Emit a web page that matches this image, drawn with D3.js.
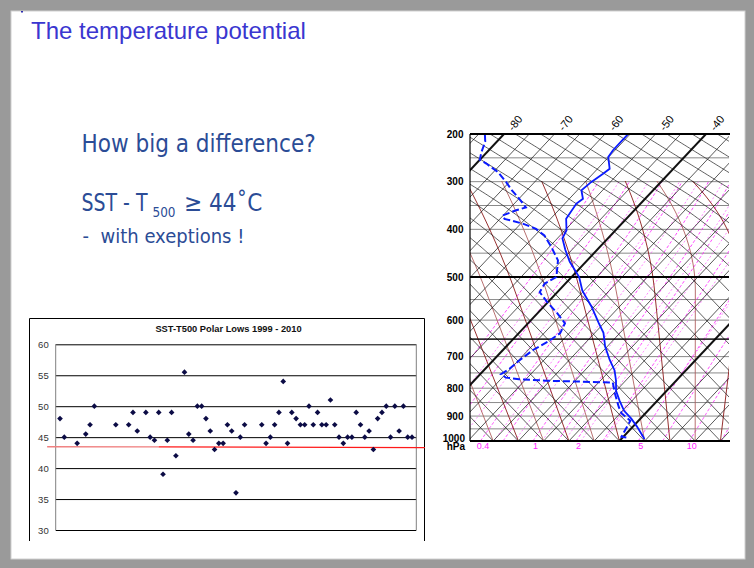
<!DOCTYPE html>
<html><head><meta charset="utf-8">
<script src="https://cdn.jsdelivr.net/npm/d3@7"></script>
<style>body{margin:0;background:#9a9a9a;} svg{display:block}</style>
</head><body><svg id="c" width="754" height="568"></svg>
<script>
// ---------- DATA ----------
// Scatter: SST - T500 for polar lows (index order, null = gap)
const scatterValues = [48,45,null,null,44,null,45.5,47,50,null,null,null,null,47,null,null,47,49,46,null,49,45,44.5,49,39,44.5,49,42,null,55.5,45.5,44.5,50,50,48,46,43,44,44,47,46,36,45,47,null,null,null,47,44,45,47,49,54,44,49,48,47,47,50,47,49,47,47,51,47,45,44,45,45,49,47,45,46,43,48,49,50,45,50,46,50,45,45];
const scatterTicks = [30,35,40,45,50,55,60];
const scatterTitle = "SST-T500 Polar Lows 1999 - 2010";
const thresholdLine = [[-3,43.45],[23,43.42],[85,43.3]];

// Sounding (pressure hPa, temperature degC)
const tempP  = [200,213,234,248,273,284,301,318,336,346,378,402,419,443,468,500,530,567,607,633,671,710,742,775,809,843,880,910,941,982,992];
const tempT  = [-55.4,-55.4,-55.4,-55.1,-52.6,-53.0,-53.8,-54.2,-52.3,-52.7,-51.9,-49.7,-49.0,-46.3,-43.2,-38.5,-35.3,-30.5,-26.1,-23.3,-20.4,-17.0,-14.1,-11.9,-10.0,-7.5,-4.7,-1.8,0.8,3.9,4.6];
const dewP   = [202,216,238,254,262,280,301,318,336,354,360,371,378,388,399,413,437,465,500,514,533,555,582,608,634,656,680,710,737,754,765,770,775,778,781,820,867,891,918,982,985];
const dewT   = [-83.6,-82.3,-81.1,-80.0,-78.0,-74.1,-70.6,-68.0,-64.9,-62.0,-63.4,-65.1,-64.1,-59.6,-56.0,-53.1,-49.6,-45.8,-43.0,-44.1,-43.5,-40.3,-36.2,-32.7,-31.8,-32.6,-34.0,-34.8,-35.2,-35.9,-34.3,-31.4,-25.8,-19.0,-12.2,-9.6,-6.4,-4.6,-1.6,-0.4,0.7];

// Diagram grid definitions
const pressureLabels = [200,300,400,500,600,700,800,900];
const isobars = d3.range(200,1001,50);
const isotherms = d3.range(-120,41,5);
const thickIsotherms = [-80,-40,0];
const isothermLabels = [-80,-70,-60,-50,-40];
const dryAdiabatBase = d3.range(-30,96,5);
const moistAdiabatBase = [-25,-20,-15,-10,-5,0,5,10,15,20];
const mixingRatios = [0.1,0.2,0.4,0.6,1,1.5,2,3,5,7,10,15,20];
const mixingLabels = [0.4,1,2,5,10];

// ---------- DRAW ----------
const svg = d3.select('#c');
svg.append('rect').attr('width',754).attr('height',568).attr('fill','#9a9a9a');
svg.append('rect').attr('x',11).attr('y',11).attr('width',734).attr('height',548)
   .attr('fill','#fff').attr('stroke','#d0d0d0');
svg.append('rect').attr('x',21).attr('y',11).attr('width',2).attr('height',1.5).attr('fill','#2b2bb0');

// slide texts
svg.append('text').attr('x',31).attr('y',39)
  .attr('font-family','"Liberation Sans", Arial, sans-serif').attr('font-size',24)
  .attr('fill','#3a36d0').text('The temperature potential');
const tf = '"DejaVu Sans Condensed","DejaVu Sans",sans-serif';
const tcol = '#2b4c96';
svg.append('text').attr('x',81.5).attr('y',151.5).attr('font-family',tf).attr('font-size',24)
  .attr('fill',tcol).text('How big a difference?');
const sst = svg.append('text').attr('y',210.5).attr('font-family',tf).attr('font-size',24).attr('fill',tcol);
sst.append('tspan').attr('x',81.5).attr('textLength',66).attr('lengthAdjust','spacingAndGlyphs').text('SST - T');
sst.append('tspan').attr('x',152.5).attr('y',216.5).attr('font-size',14.5).attr('textLength',23).attr('lengthAdjust','spacingAndGlyphs').text('500');
sst.append('tspan').attr('x',184).attr('y',210.5).text('\u2265 44\u02DAC');
const ex = svg.append('text').attr('y',243).attr('font-family',tf).attr('font-size',20).attr('fill',tcol);
ex.append('tspan').attr('x',82.5).text('-');
ex.append('tspan').attr('x',100.5).text('with exeptions !');

// ---------- Scatter chart ----------
const sc = svg.append('g');
const xS = d3.scaleLinear().domain([-1,83]).range([55.7,416.3]);
const yS = d3.scaleLinear().domain([30,60]).range([530,344.3]);
sc.append('path').attr('d','M29.5,541 V318.5 H424.5 V541').attr('fill','none').attr('stroke','#000').attr('stroke-width',1);
sc.append('text').attr('x',228.5).attr('y',332.3).attr('text-anchor','middle')
  .attr('font-family','"Liberation Sans", Arial, sans-serif').attr('font-size',9.3).attr('font-weight','bold')
  .attr('fill','#111').text(scatterTitle);
const yAx = d3.axisLeft(yS).tickValues(scatterTicks).tickSizeInner(-(416.3-55.7)).tickSizeOuter(0).tickPadding(7);
const ga = sc.append('g').attr('transform','translate(55.7,0)').call(yAx);
ga.select('.domain').remove();
ga.selectAll('.tick line').attr('stroke','#000').attr('stroke-width',1);
ga.selectAll('.tick text').attr('font-family','"Liberation Sans", Arial, sans-serif').attr('font-size',9.5).attr('fill','#333');
sc.append('line').attr('x1',55.7).attr('x2',55.7).attr('y1',yS(60)).attr('y2',yS(30)).attr('stroke','#808080');
sc.append('line').attr('x1',416.3).attr('x2',416.3).attr('y1',yS(60)).attr('y2',yS(30)).attr('stroke','#808080');
sc.append('path').attr('d',d3.line().x(d=>xS(d[0])).y(d=>yS(d[1]))(thresholdLine.slice(0,2)))
  .attr('stroke','#f08080').attr('stroke-width',1.3).attr('fill','none');
sc.append('path').attr('d',d3.line().x(d=>xS(d[0])).y(d=>yS(d[1]))(thresholdLine.slice(1)))
  .attr('stroke','#ff1a1a').attr('stroke-width',1.3).attr('fill','none');
const sym = d3.symbol(d3.symbolSquare,16);
sc.selectAll('path.pt').data(scatterValues.map((v,i)=>({i,v})).filter(d=>d.v!=null)).join('path')
  .attr('class','pt').attr('d',sym)
  .attr('transform',d=>`translate(${xS(d.i)},${yS(d.v)}) rotate(45)`)
  .attr('fill','#0b0b45');

// ---------- Skew-T diagram ----------
const L = 470, R = 729, T0y = 134, B = 441;
const yLin = d3.scaleLinear().domain([200,500]).range([134,277]);
const yLog = d3.scaleLog().domain([500,1000]).range([277,441]);
const py = p => p <= 500 ? yLin(p) : yLog(p);
const tx = d3.scaleLinear().domain([-80,-40]).range([504,706]);
const skew = 0.94;
const X = (T,p) => tx(T) - skew*(py(p) - T0y);
const line = d3.line();

const st = svg.append('g');
st.append('clipPath').attr('id','clip').append('rect').attr('x',L).attr('y',T0y).attr('width',R-L).attr('height',B-T0y);
const g = st.append('g').attr('clip-path','url(#clip)');

g.selectAll('line.iso').data(isobars).join('line')
  .attr('x1',L).attr('x2',R).attr('y1',d=>py(d)).attr('y2',d=>py(d))
  .attr('stroke','#8a8a8a').attr('stroke-width',1);

function mixPath(w, ice){
  const pts=[];
  for(let p=1000;p>=300;p-=5){
    const e=w*p/(622+w), Ln=Math.log(e/6.112);
    const T = ice ? 272.62*Ln/(22.46-Ln) : 243.5*Ln/(17.67-Ln);
    if(ice && T>0) continue;
    pts.push([X(T,p),py(p)]);
  }
  return pts;
}
mixingRatios.forEach(w=>{
  g.append('path').attr('d',line(mixPath(w,false))).attr('fill','none')
    .attr('stroke','#ff33ff').attr('stroke-width',0.9).attr('stroke-dasharray','3,2');
  g.append('path').attr('d',line(mixPath(w,true))).attr('fill','none')
    .attr('stroke','#ff55ff').attr('stroke-width',0.7).attr('stroke-dasharray','2,2');
});

function moistPath(T){
  const x0 = X(T,1000);
  const c0 = 0.2622 - 0.01289*T - 0.000311*T*T;
  const c2 = Math.max(0.0008, 0.0015 + 0.00034*(T-10));
  const pts=[];
  for(let d=0; d<=260; d+=2){
    pts.push([x0 - c0*d - c2*Math.pow(Math.max(0,d-150),2), B-d]);
  }
  return pts;
}
moistAdiabatBase.forEach((T,i)=>{
  g.append('path').attr('d',line(moistPath(T))).attr('fill','none')
   .attr('stroke', i%2 ? '#8b1a1a' : '#b06060').attr('stroke-width',0.9);
});

const slope = y => y>=290 ? 1.05 : (y<=190 ? 0.62 : 0.62 + (y-190)/100*0.43);
function dryPath(T){
  let x = X(T,1000); const pts=[];
  for(let y=B; y>=T0y-1; y-=1){ pts.push([x,y]); x -= 1/slope(y-0.5); }
  return pts;
}
dryAdiabatBase.forEach(T=>{
  g.append('path').attr('d',line(dryPath(T))).attr('fill','none')
   .attr('stroke','#1a1a1a').attr('stroke-width',0.7);
});

g.selectAll('line.it').data(isotherms).join('line')
  .attr('x1',d=>X(d,200)).attr('y1',py(200)).attr('x2',d=>X(d,1000)).attr('y2',py(1000))
  .attr('stroke','#111').attr('stroke-width',d=>thickIsotherms.includes(d)?2:0.7);

[[500,2],[650,1.4]].forEach(([p,w])=>{
  g.append('line').attr('x1',L).attr('x2',R).attr('y1',py(p)).attr('y2',py(p)).attr('stroke','#000').attr('stroke-width',w);
});

const tempPts = tempP.map((p,i)=>[X(tempT[i],p),py(p)]);
const dewPts = dewP.map((p,i)=>[X(dewT[i],p),py(p)]);
g.append('path').attr('d',line(dewPts)).attr('fill','none').attr('stroke','#0a1aff')
  .attr('stroke-width',2).attr('stroke-dasharray','7,3');
g.append('path').attr('d',line(tempPts)).attr('fill','none').attr('stroke','#0a1aff')
  .attr('stroke-width',1.8);

st.append('line').attr('x1',L).attr('x2',L).attr('y1',T0y).attr('y2',B).attr('stroke','#000').attr('stroke-width',1.2);
st.append('line').attr('x1',L).attr('x2',R+1).attr('y1',T0y).attr('y2',T0y).attr('stroke','#000').attr('stroke-width',2);
st.append('line').attr('x1',L).attr('x2',R+1).attr('y1',B).attr('y2',B).attr('stroke','#000').attr('stroke-width',2);

const lf = '"Liberation Sans", Arial, sans-serif';
st.selectAll('text.pl').data(pressureLabels).join('text')
  .attr('x',463.5).attr('y',d=>py(d)).attr('dy','0.36em').attr('text-anchor','end')
  .attr('font-family',lf).attr('font-size',10).attr('font-weight','bold').text(d=>d);
st.append('text').attr('x',465).attr('y',py(1000)-2.5).attr('dy','0.36em').attr('text-anchor','end')
  .attr('font-family',lf).attr('font-size',10).attr('font-weight','bold').text('1000');
st.append('text').attr('x',465).attr('y',py(1000)+5).attr('dy','0.36em').attr('text-anchor','end')
  .attr('font-family',lf).attr('font-size',10).attr('font-weight','bold').text('hPa');

st.selectAll('text.tl').data(isothermLabels).join('text')
  .attr('transform',d=>`translate(${tx(d)+11},${T0y-11}) rotate(-52)`)
  .attr('text-anchor','middle').attr('dy','0.35em')
  .attr('font-family',lf).attr('font-size',11).attr('fill','#000').text(d=>d);

const tdAt = (w,p)=>{const e=w*p/(622+w), Ln=Math.log(e/6.112); return 243.5*Ln/(17.67-Ln);};
st.selectAll('text.ml').data(mixingLabels).join('text')
  .attr('x',d=>X(tdAt(d,1000),1000)+2.5).attr('y',py(1000)+5).attr('dy','0.36em')
  .attr('text-anchor','middle').attr('font-family',lf).attr('font-size',9).attr('fill','#ff22ff').text(d=>d);
</script></body></html>
